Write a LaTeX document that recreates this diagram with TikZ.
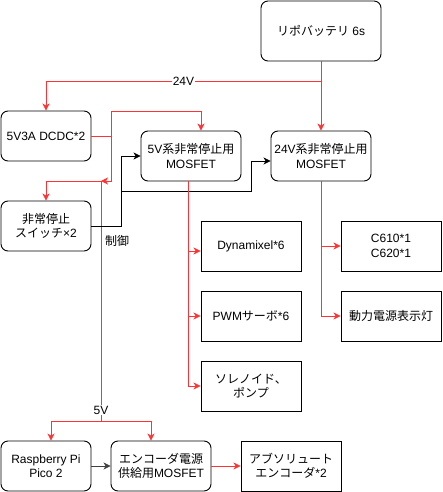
\documentclass[tikz,border=0pt]{standalone}
\usepackage{fontspec}
\setmainfont{Liberation Sans}
\newfontfamily\jp{Noto Sans CJK JP}
\usepackage{tikz}
\usetikzlibrary{arrows.meta}
\definecolor{pwrred}{HTML}{FF3333}
\tikzstyle{block}=[draw, line width=0.9pt, minimum width=100pt, minimum height=50pt, align=center, inner sep=2pt,
                   font=\fontsize{12}{14.5}\selectfont]
\tikzstyle{rblock}=[block, rounded corners=7pt]
\tikzstyle{pwr}=[draw=pwrred, line width=0.8pt, -{Stealth[length=7pt, width=7pt, inset=2pt]}]
\tikzstyle{pwrline}=[draw=pwrred, line width=0.8pt]
\tikzstyle{ctl}=[draw=black, line width=0.8pt, -{Stealth[length=7pt, width=7pt, inset=2pt]}]
\tikzstyle{lbl}=[fill=white, inner sep=1pt, font=\fontsize{12}{14.5}\selectfont]
\begin{document}
\begin{tikzpicture}[x=1pt, y=-1pt]
        \useasboundingbox (-1,-1) rectangle (441,491);
        % power source and first stage
        \node[rblock, minimum width=120pt, minimum height=60pt] (batt) at (320,30) {{\jp リポバッテリ} 6s};
        \node[rblock, minimum width=90pt] (dcdc) at (45,135) {5V3A DCDC*2};
        \node[rblock] (sw5) at (190,155) {5V{\jp 系非常停止用}\\MOSFET};
        \node[rblock] (sw24) at (320,155) {24V{\jp 系非常停止用}\\MOSFET};
        \node[rblock, minimum width=90pt] (estop) at (45,225) {{\jp 非常停止}\\{\jp スイッチ}×2};
        % loads
        \node[block] (dyna) at (250,245) {Dynamixel*6};
        \node[block] (pwm) at (250,315) {PWM{\jp サーボ}*6};
        \node[block] (sol) at (250,385) {{\jp ソレノイド、}\\{\jp ポンプ}};
        \node[block] (c610) at (390,245) {C610*1\\C620*1};
        \node[block] (lamp) at (390,315) {{\jp 動力電源表示灯}};
        % encoder part
        \node[rblock, minimum width=90pt] (pico) at (45,465) {Raspberry Pi\\Pico 2};
        \node[rblock] (encfet) at (160,465) {{\jp エンコーダ電源}\\{\jp 供給用}MOSFET};
        \node[block] (absenc) at (290,465) {{\jp アブソリュート}\\{\jp エンコーダ}*2};

        \coordinate (j24) at (320,80);
        \coordinate (j5) at (110,135);
        \coordinate (k) at (100,180);
        \coordinate (k5) at (100,420);
        \coordinate (c1) at (120,225);
        \coordinate (c2) at (120,190);

        \draw[pwr] (batt.south) -- (sw24.north);
        \draw[pwr] (j24) -| node[pos=0.25, lbl] {24V} (dcdc.north);
        \draw[pwr] (dcdc.east) -- (j5) |- (200,110) -- ([xshift=10pt]sw5.north);
        \draw[pwr] (j5) |- (k);
        \draw[pwr] (k) -| (estop.north);
        \draw[pwrline] (k) -- node[pos=0.955, lbl] {5V} (k5);
        \draw[pwr] (k5) -| ([xshift=5pt]pico.north);
        \draw[pwr] (k5) -| ([xshift=-10pt]encfet.north);
        % control lines
        \draw[ctl] (estop.east) -- (c1) |- (sw5.west);
        \draw[ctl] (c2) -- ++(130,0) |- ([yshift=-5pt]sw24.west);
        \node[lbl, fill=none] (ctrl) at (116,240) {{\jp 制御}};
        % 5V side
        \draw[pwr] ([xshift=-3pt]sw5.south) |- ([yshift=-5pt]dyna.west);
        \draw[pwr] ([xshift=-3pt]sw5.south) |- (pwm.west);
        \draw[pwr] ([xshift=-3pt]sw5.south) |- (sol.west);
        % 24V side
        \draw[pwr] (sw24.south) |- (c610.west);
        \draw[pwr] (sw24.south) |- (lamp.west);
        % encoder
        \draw[ctl, draw=black!75] (pico.east) -- (encfet.west);
        \draw[pwr] (encfet.east) -- (absenc.west);
    \end{tikzpicture}
\end{document}
